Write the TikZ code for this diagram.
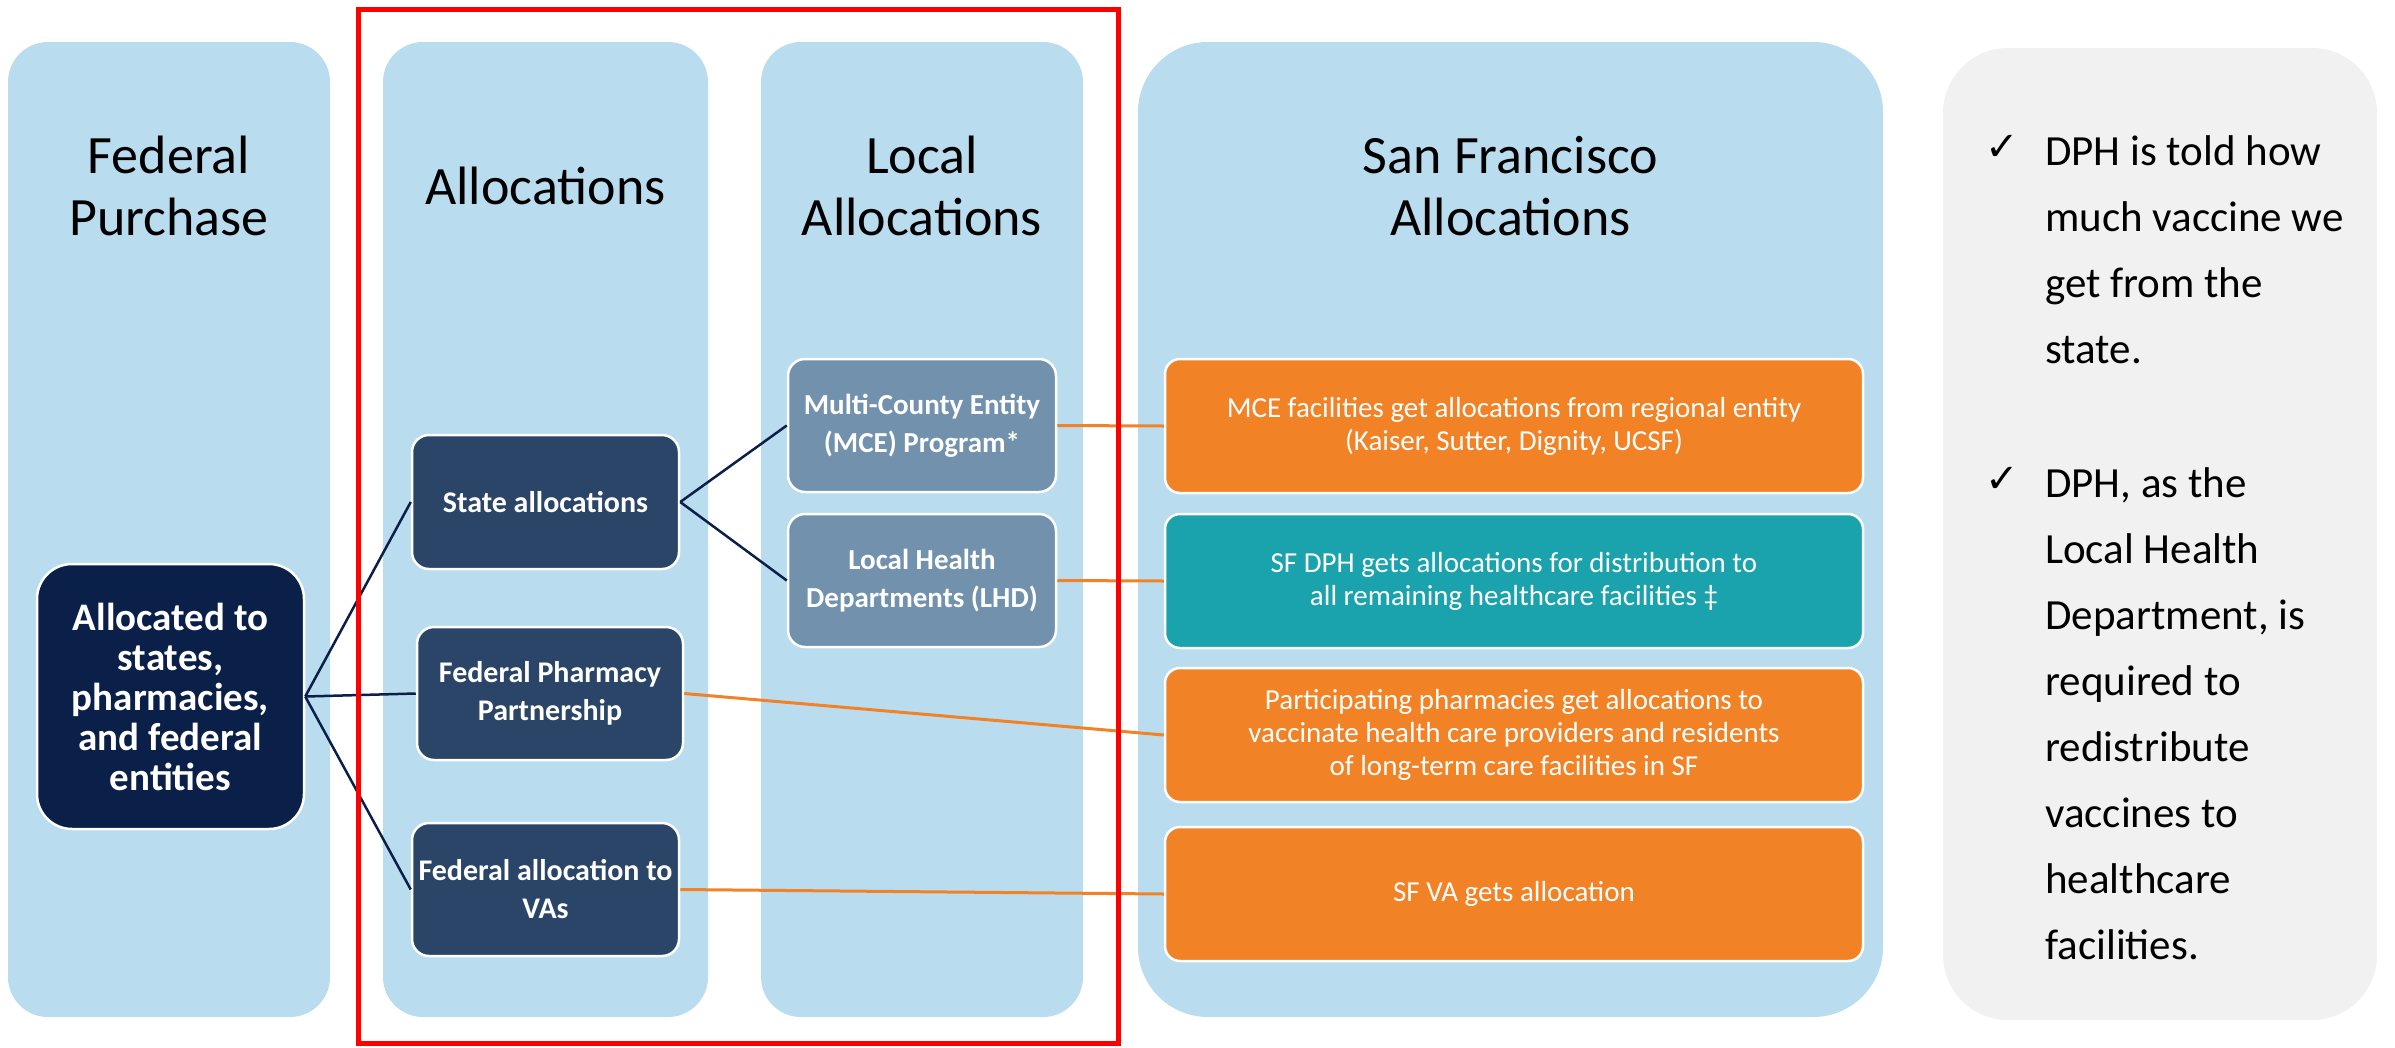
\documentclass[tikz,border=0pt]{standalone}
\usepackage{fontspec}
\setmainfont{Carlito}
\newfontfamily\symfont{DejaVu Sans}
\definecolor{colblue}{HTML}{B9DCEE}
\definecolor{navy}{HTML}{0A2048}
\definecolor{slate}{HTML}{2B4569}
\definecolor{mceblue}{HTML}{7191AD}
\definecolor{orng}{HTML}{F28226}
\definecolor{teal}{HTML}{1AA3AD}
\definecolor{panelgray}{HTML}{F1F1F1}
\begin{document}
\begin{tikzpicture}[x=1pt,y=-1pt,
  colpanel/.style={fill=colblue, draw=none, rounded corners=40pt, inner sep=0pt},
  coltitle/.style={align=center, inner sep=0pt, font=\fontsize{54}{62}\selectfont},
  boxbase/.style={draw=white, line width=2.5pt, text=white, align=center, inner sep=0pt, rounded corners=17pt},
  darkbox/.style={boxbase, fill=slate, minimum width=267pt, minimum height=134pt, font=\bfseries\fontsize{30}{38}\selectfont},
  mcebox/.style={boxbase, fill=mceblue, minimum width=268pt, minimum height=133pt, font=\bfseries\fontsize{29}{38}\selectfont},
  sfbox/.style={boxbase, fill=orng, minimum width=698pt, minimum height=134pt, rounded corners=15pt, font=\fontsize{29}{33}\selectfont},
  navyline/.style={draw=navy, line width=2.5pt},
  orngline/.style={draw=orng, line width=3pt},
  note/.style={anchor=base west, align=left, inner sep=0pt, font=\fontsize{43}{66}\selectfont},
  chk/.style={inner sep=0pt, font=\symfont\fontsize{40}{40}\selectfont}
]
\useasboundingbox (0,0) rectangle (2395,1047);
% column panels
\node[colpanel, minimum width=322pt, minimum height=975pt] (c1) at (169,529.5) {};
\node[colpanel, minimum width=325pt, minimum height=975pt] (c2) at (545.5,529.5) {};
\node[colpanel, minimum width=322pt, minimum height=975pt] (c3) at (922,529.5) {};
\node[colpanel, rounded corners=70pt, minimum width=745pt, minimum height=975pt] (c4) at (1510.5,529.5) {};
\node[fill=panelgray, rounded corners=65pt, inner sep=0pt, minimum width=434pt, minimum height=972pt] (gp) at (2160,534) {};
% titles
\node[coltitle] (t1) at (169,186) {Federal\\Purchase};
\node[coltitle] (t2) at (545.5,186) {Allocations};
\node[coltitle] (t3) at (922,186) {Local\\Allocations};
\node[coltitle] (t4) at (1510.5,186) {San Francisco\\Allocations};
% boxes
\node[boxbase, fill=navy, rounded corners=35pt, minimum width=267pt, minimum height=265pt, font=\bfseries\fontsize{39}{40}\selectfont] (alloc) at (170.5,696.5) {Allocated to\\states,\\pharmacies,\\and federal\\entities};
\node[darkbox] (state) at (545.5,502) {State allocations};
\node[darkbox, minimum width=266pt, minimum height=133pt] (fpp) at (550,693.5) {Federal Pharmacy\\Partnership};
\node[darkbox, minimum height=133pt] (fva) at (545.5,889.5) {Federal allocation to\\VAs};
\node[mcebox] (mce) at (922,425.5) {Multi-County Entity\\(MCE) Program*};
\node[mcebox] (lhd) at (922,580.5) {Local Health\\Departments (LHD)};
\node[sfbox] (o1) at (1514,426) {MCE facilities get allocations from regional entity\\(Kaiser, Sutter, Dignity, UCSF)};
\node[sfbox, fill=teal] (o2) at (1514,581) {SF DPH gets allocations for distribution to\\all remaining healthcare facilities ‡};
\node[sfbox] (o3) at (1514,735) {Participating pharmacies get allocations to\\vaccinate health care providers and residents\\of long-term care facilities in SF};
\node[sfbox] (o4) at (1514,894) {SF VA gets allocation};
% connectors
\draw[navyline] (alloc.east) -- (state.west);
\draw[navyline] (alloc.east) -- (fpp.west);
\draw[navyline] (alloc.east) -- (fva.west);
\draw[navyline] (state.east) -- (mce.west);
\draw[navyline] (state.east) -- (lhd.west);
\draw[orngline] (mce.east) -- (o1.west);
\draw[orngline] (lhd.east) -- (o2.west);
\draw[orngline] (fpp.east) -- (o3.west);
\draw[orngline] (fva.east) -- (o4.west);
% notes (base anchor = baseline of the last line)
\node[chk] (k1) at (2002,148) {✓};
\node[note] (n1) at (2045,363) {DPH is told how\\much vaccine we\\get from the\\state.};
\node[chk] (k2) at (2002,480) {✓};
\node[note] (n2) at (2045,959) {DPH, as the\\Local Health\\Department, is\\required to\\redistribute\\vaccines to\\healthcare\\facilities.};
% highlight frame
\node[draw=red, line width=5pt, inner sep=0pt, minimum width=760pt, minimum height=1034pt] (hl) at (738,526) {};
\end{tikzpicture}
\end{document}
